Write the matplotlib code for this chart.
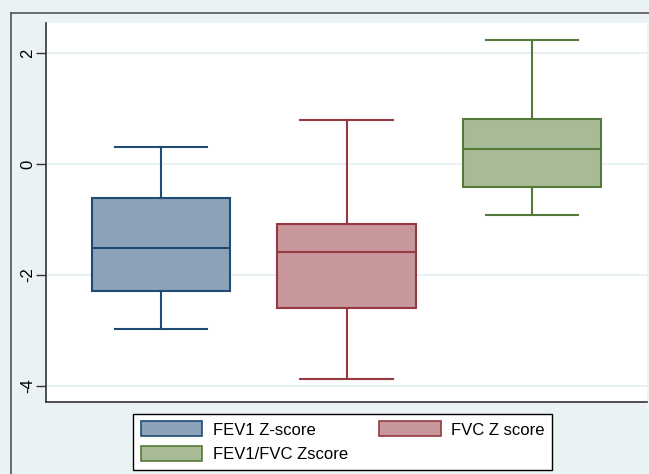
import matplotlib.pyplot as plt
import matplotlib.patches as mpatches
from matplotlib.lines import Line2D

plt.rcParams['font.family'] = ['Liberation Sans', 'DejaVu Sans']

# box plot summary values
names = ['FEV1 Z-score', 'FVC Z score', 'FEV1/FVC Zscore']
whislo = [-2.97, -3.87, -0.92]
q1 = [-2.29, -2.59, -0.41]
med = [-1.51, -1.59, 0.27]
q3 = [-0.61, -1.08, 0.81]
whishi = [0.31, 0.79, 2.23]
yticks = [-4, -2, 0, 2]

fills = ['#8ca2b7', '#c7979b', '#a9bb96']
edges = ['#1f4b76', '#953a42', '#557a3a']
bg = '#eaf2f3'

fig = plt.figure(figsize=(6.49, 4.74), dpi=100, facecolor=bg)
ax = fig.add_axes([46/649, 1-402/474, 601/649, 379/474])
ax.set_facecolor('white')

stats = []
for i in range(3):
    stats.append(dict(whislo=whislo[i], q1=q1[i], med=med[i], q3=q3[i],
                      whishi=whishi[i], fliers=[], label=names[i]))

for i in range(3):
    ax.bxp([stats[i]], positions=[i + 1], widths=0.744, patch_artist=True,
           showfliers=False,
           boxprops=dict(facecolor=fills[i], edgecolor=edges[i], linewidth=1.5),
           medianprops=dict(color=edges[i], linewidth=1.5),
           whiskerprops=dict(color=edges[i], linewidth=1.5),
           capprops=dict(color=edges[i], linewidth=1.5),
           capwidths=0.5)

ax.set_xlim(0.38, 3.62)
ax.set_ylim(-4.29, 2.54)
ax.set_xticks([])
ax.set_yticks(yticks)
ax.set_yticklabels([str(t) for t in yticks], rotation=90, va='center', fontsize=12)
ax.tick_params(axis='y', length=7, width=1, color='#333333', pad=1)
ax.yaxis.grid(True, color='#e3eef1', linewidth=1.2)
ax.set_axisbelow(True)
for s in ['top', 'right']:
    ax.spines[s].set_visible(False)
for s in ['left', 'bottom']:
    ax.spines[s].set_color('#333333')
    ax.spines[s].set_linewidth(1.2)

# outer frame lines (top and left)
fig.add_artist(Line2D([11/649, 11/649], [0, 1-13/474], transform=fig.transFigure,
                      color='#555555', linewidth=1.2))
fig.add_artist(Line2D([11/649, 1], [1-13/474, 1-13/474], transform=fig.transFigure,
                      color='#555555', linewidth=1.2))

handles = [mpatches.Patch(facecolor=fills[i], edgecolor=edges[i], linewidth=1.2)
           for i in range(3)]
order = [0, 2, 1]
leg = fig.legend([handles[i] for i in order], [names[i] for i in order],
                 loc='upper left', bbox_to_anchor=(133/649, 1-414/474),
                 ncol=2, fontsize=12, frameon=True, fancybox=False,
                 edgecolor='black', facecolor='white', framealpha=1,
                 handlelength=3.7, handleheight=1.0, handletextpad=0.65,
                 columnspacing=1.85, borderpad=0.45, labelspacing=0.5,
                 borderaxespad=0)
leg.get_frame().set_linewidth(1.0)

fig.savefig('out.png', dpi=100, facecolor=bg)
